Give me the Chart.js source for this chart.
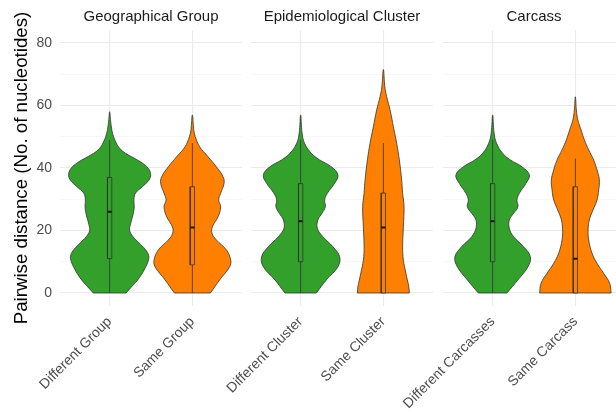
<!DOCTYPE html>
<html>
<head>
<meta charset="utf-8">
<script src="https://cdn.jsdelivr.net/npm/chart.js@4/dist/chart.umd.min.js"></script>
<style>
  html, body { margin: 0; padding: 0; background: #ffffff; width: 616px; height: 415px; overflow: hidden; }
  .facet { position: absolute; left: 0; top: 0; width: 640px; height: 415px; }
</style>
</head>
<body>
<div class="facet"><canvas id="facet0" width="640" height="415"></canvas></div>
<div class="facet"><canvas id="facet1" width="640" height="415"></canvas></div>
<div class="facet"><canvas id="facet2" width="640" height="415"></canvas></div>
<script>
// ---- facet titles and categories ----
const facetTitles = ['Geographical Group', 'Epidemiological Cluster', 'Carcass'];
const groupCategories = ['Different Group', 'Same Group'];
const clusterCategories = ['Different Cluster', 'Same Cluster'];
const carcassCategories = ['Different Carcasses', 'Same Carcass'];

// ---- y axis ----
const yAxisTitle = 'Pairwise distance (No. of nucleotides)';
const yTickLabels = [0, 20, 40, 60, 80];
const yGridValues = [0, 10, 20, 30, 40, 50, 60, 70, 80];

// ---- violin outlines: distance level and half-width (category units) ----
const levelsDiffGroup = [0, 2, 4, 6, 8, 10, 12, 14, 16, 18, 20, 22, 25, 27.5, 30, 32, 34, 36, 38, 40, 41.6, 43.2, 44.7, 46.3, 48, 50, 52, 55, 58];
const widthsDiffGroup = [0.198, 0.266, 0.334, 0.387, 0.429, 0.463, 0.472, 0.429, 0.357, 0.284, 0.242, 0.252, 0.282, 0.297, 0.294, 0.314, 0.395, 0.472, 0.496, 0.463, 0.394, 0.294, 0.193, 0.121, 0.080, 0.048, 0.028, 0.012, 0];

const levelsSameGroup = [0, 4.2, 8.4, 10.6, 13.8, 17, 19.1, 21.2, 24.4, 27.6, 29.8, 31.9, 35.1, 37.2, 40.4, 43.6, 46.8, 50, 52, 57];
const widthsSameGroup = [0.218, 0.330, 0.451, 0.463, 0.411, 0.290, 0.238, 0.242, 0.311, 0.342, 0.318, 0.342, 0.383, 0.371, 0.290, 0.190, 0.088, 0.036, 0.018, 0];

const levelsDiffCluster = [0, 4.2, 8.4, 11.6, 14.8, 18, 20.7, 23.4, 25.5, 27.6, 29.8, 31.9, 35.1, 37.8, 40.4, 42.6, 44.7, 47.9, 51.1, 57];
const widthsDiffCluster = [0.190, 0.311, 0.451, 0.472, 0.391, 0.270, 0.202, 0.209, 0.258, 0.299, 0.290, 0.323, 0.411, 0.451, 0.371, 0.230, 0.129, 0.048, 0.018, 0];

const levelsSameCluster = [0, 2, 4.2, 6.3, 10.5, 14.8, 21.2, 27.6, 31.9, 36.2, 42.6, 47.9, 53.2, 58.6, 62.8, 66, 71.5];
const widthsSameCluster = [0.314, 0.308, 0.290, 0.273, 0.242, 0.233, 0.242, 0.250, 0.233, 0.221, 0.193, 0.161, 0.121, 0.081, 0.040, 0.018, 0];

const levelsDiffCarcass = [0, 4.2, 8.4, 11.6, 14.8, 18, 20.7, 23.4, 25.5, 27.6, 29.8, 31.9, 35.1, 37.8, 40.4, 42.6, 44.7, 47.9, 51.1, 57];
const widthsDiffCarcass = [0.173, 0.306, 0.427, 0.456, 0.375, 0.254, 0.202, 0.202, 0.254, 0.306, 0.294, 0.323, 0.403, 0.444, 0.354, 0.214, 0.121, 0.048, 0.018, 0];

const levelsSameCarcass = [0, 3.1, 6.3, 9.5, 12.7, 17, 20.2, 23.4, 26.6, 29.8, 33, 36.2, 39.4, 42.6, 45.8, 49, 52.2, 55.4, 58.6, 62.8];
const widthsSameCarcass = [0.432, 0.415, 0.342, 0.262, 0.202, 0.161, 0.154, 0.169, 0.214, 0.262, 0.282, 0.290, 0.262, 0.221, 0.161, 0.109, 0.069, 0.030, 0.012, 0];

// ---- box plot summaries: [lower whisker, Q1, median, Q3, upper whisker] ----
const boxDiffGroup = [0, 11, 26, 37, 49];
const boxSameGroup = [0, 9, 21, 34, 48];
const boxDiffCluster = [0, 10, 23, 35, 49];
const boxSameCluster = [0, 0, 21, 32, 48];
const boxDiffCarcass = [0, 10, 23, 35, 49];
const boxSameCarcass = [0, 0, 11, 34, 43];

// ---- styling ----
const DIFFERENT_FILL = '#33a02c';
const SAME_FILL = '#ff7f00';
const OUTLINE = '#333333';
const GRID_MAJOR = '#ebebeb';
const GRID_MINOR = '#f3f3f3';
const FONT = '"Liberation Sans", Arial, Helvetica, sans-serif';
const BOX_HALF = 0.026;

Chart.defaults.font.family = FONT;

// panel placement inside the 640px-wide canvases
const panelLeft = [60, 251, 443];
const panelRight = [242, 433, 625];
const CANVAS_W = 640;

const facets = [
  { categories: groupCategories, violins: [
      { levels: levelsDiffGroup, widths: widthsDiffGroup, box: boxDiffGroup, fill: DIFFERENT_FILL },
      { levels: levelsSameGroup, widths: widthsSameGroup, box: boxSameGroup, fill: SAME_FILL } ] },
  { categories: clusterCategories, violins: [
      { levels: levelsDiffCluster, widths: widthsDiffCluster, box: boxDiffCluster, fill: DIFFERENT_FILL },
      { levels: levelsSameCluster, widths: widthsSameCluster, box: boxSameCluster, fill: SAME_FILL } ] },
  { categories: carcassCategories, violins: [
      { levels: levelsDiffCarcass, widths: widthsDiffCarcass, box: boxDiffCarcass, fill: DIFFERENT_FILL },
      { levels: levelsSameCarcass, widths: widthsSameCarcass, box: boxSameCarcass, fill: SAME_FILL } ] }
];

// closed outline: up the right side, down the left side, back across the base
function violinOutline(centre, levels, widths) {
  const pts = [];
  const n = levels.length;
  for (let i = 0; i < n; i++) pts.push({ x: centre + widths[i], y: levels[i] });
  for (let i = n - 2; i >= 0; i--) pts.push({ x: centre - widths[i], y: levels[i] });
  pts.push({ x: centre - widths[0], y: levels[0] });
  pts.push({ x: centre + widths[0], y: levels[0] });
  return pts;
}

function violinDatasets(centre, v) {
  const [lo, q1, med, q3, hi] = v.box;
  const common = { pointRadius: 0, pointHoverRadius: 0, pointHitRadius: 0 };
  return [
    Object.assign({ data: violinOutline(centre, v.levels, v.widths), borderColor: OUTLINE, borderWidth: 0.8,
      backgroundColor: v.fill, fill: 'shape', tension: 0.4, order: 3 }, common),
    Object.assign({ data: [{ x: centre, y: lo }, { x: centre, y: hi }], borderColor: OUTLINE, borderWidth: 0.8,
      fill: false, tension: 0, order: 2 }, common),
    Object.assign({ data: [{ x: centre - BOX_HALF, y: q1 }, { x: centre + BOX_HALF, y: q1 }, { x: centre + BOX_HALF, y: q3 },
      { x: centre - BOX_HALF, y: q3 }, { x: centre - BOX_HALF, y: q1 }], borderColor: OUTLINE, borderWidth: 0.8,
      backgroundColor: v.fill, fill: 'shape', tension: 0, order: 1 }, common),
    Object.assign({ data: [{ x: centre - BOX_HALF, y: med }, { x: centre + BOX_HALF, y: med }], borderColor: '#1a1a1a',
      borderWidth: 2, fill: false, tension: 0, order: 0 }, common)
  ];
}

facets.forEach((facet, idx) => {
  const first = idx === 0;
  const datasets = [];
  facet.violins.forEach((v, k) => datasets.push(...violinDatasets(k + 1, v)));

  new Chart(document.getElementById('facet' + idx), {
    type: 'line',
    data: { datasets },
    options: {
      responsive: false,
      animation: false,
      events: [],
      layout: { padding: { left: first ? 0 : panelLeft[idx], right: CANVAS_W - panelRight[idx], top: 0, bottom: 0 } },
      plugins: {
        legend: { display: false },
        tooltip: { enabled: false },
        title: {
          display: true, text: facetTitles[idx], fullSize: false, color: '#1a1a1a',
          font: { size: 15, weight: 'normal', family: FONT }, padding: { top: 8, bottom: 4.5 }
        }
      },
      scales: {
        x: {
          type: 'linear', min: 0.4, max: 2.6,
          afterBuildTicks: s => { s.ticks = [{ value: 1 }, { value: 2 }]; },
          afterFit: s => { s.height = 109.5; },
          border: { display: false },
          grid: { color: GRID_MAJOR, lineWidth: 1.1, drawTicks: false },
          ticks: {
            autoSkip: false, minRotation: 45, maxRotation: 45, padding: 8,
            color: '#4d4d4d', font: { size: 14, family: FONT },
            callback: v => facet.categories[Math.round(v) - 1]
          }
        },
        y: {
          type: 'linear', min: -4, max: 84,
          afterBuildTicks: s => { s.ticks = yGridValues.map(v => ({ value: v })); },
          afterFit: s => { s.width = first ? panelLeft[0] : 0; },
          border: { display: false },
          grid: {
            drawTicks: false,
            color: c => (yTickLabels.includes(c.tick.value) ? GRID_MAJOR : GRID_MINOR),
            lineWidth: c => (yTickLabels.includes(c.tick.value) ? 1.1 : 0.7)
          },
          ticks: {
            display: first, padding: 8, color: '#4d4d4d', font: { size: 14, family: FONT },
            callback: v => (yTickLabels.includes(v) ? String(v) : '')
          },
          title: {
            display: first, text: yAxisTitle, color: '#000000',
            font: { size: 18.7, family: FONT }, padding: { top: 10.8, bottom: 0 }
          }
        }
      }
    }
  });
});
</script>
</body>
</html>
